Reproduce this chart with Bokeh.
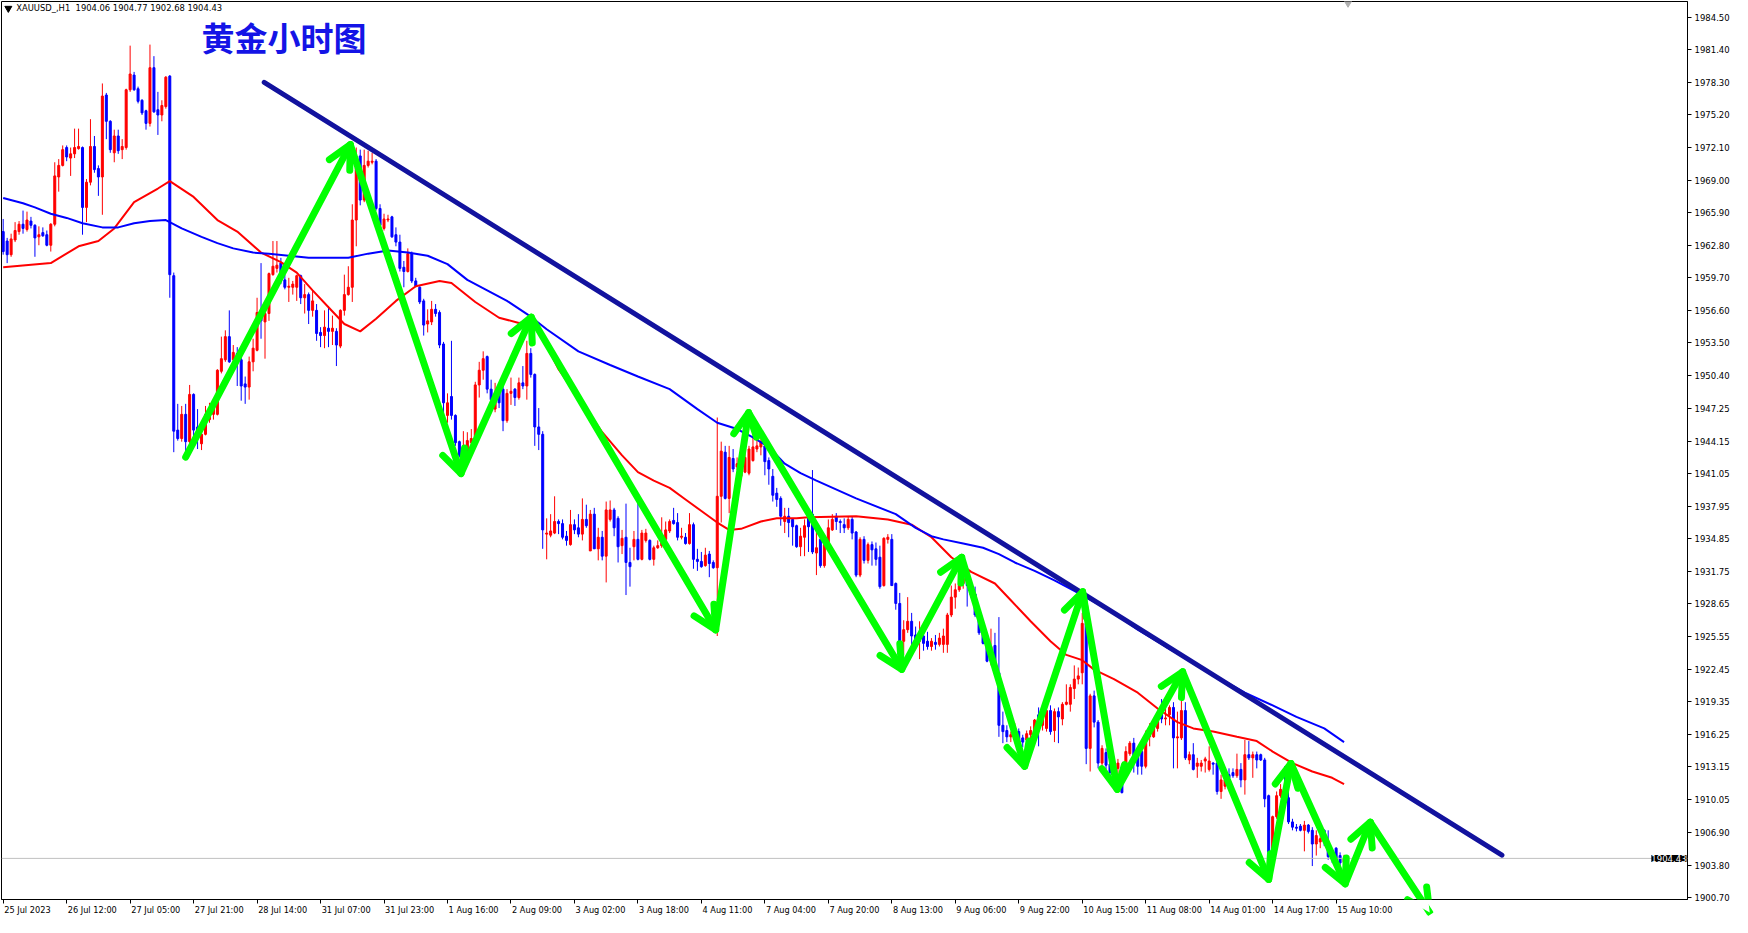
from bokeh.plotting import figure
from bokeh.models import (ColumnDataSource, FixedTicker, PrintfTickFormatter, Label,
                          Span, Arrow, OpenHead, Range1d)
from bokeh.embed import file_html
from bokeh.resources import INLINE

# ---------------- data (XAUUSD H1) ----------------
opens = [
    1964.1, 1963.2, 1961.9, 1963.3, 1964.1, 1964.8, 1964.3, 1965.1, 1964.7, 1963.6,
    1964.0, 1963.8, 1962.8, 1964.8, 1969.3, 1970.4, 1972.1, 1971.1, 1971.5, 1972.0,
    1972.1, 1966.4, 1968.8, 1972.2, 1970.1, 1969.3, 1977.1, 1974.6, 1971.6, 1973.2,
    1971.9, 1972.1, 1977.6, 1979.0, 1977.7, 1976.6, 1975.6, 1974.4, 1979.7, 1975.7,
    1975.2, 1976.0, 1978.9, 1959.9, 1945.2, 1944.4, 1946.7, 1944.1, 1948.6, 1945.5,
    1943.9, 1944.8, 1946.2, 1946.7, 1946.7, 1950.8, 1951.9, 1954.1, 1951.9, 1952.5,
    1951.9, 1949.6, 1949.3, 1951.7, 1952.8, 1956.4, 1955.5, 1956.3, 1960.0, 1960.6,
    1961.1, 1959.5, 1958.8, 1958.8, 1958.8, 1959.9, 1957.8, 1958.1, 1956.6, 1956.6,
    1954.5, 1954.2, 1954.9, 1954.6, 1954.6, 1953.2, 1956.6, 1958.1, 1958.8, 1965.2,
    1971.3, 1967.1, 1970.4, 1970.7, 1970.8, 1966.3, 1964.4, 1965.2, 1965.5, 1963.8,
    1963.1, 1960.7, 1960.3, 1962.0, 1959.4, 1958.8, 1957.5, 1955.3, 1955.5, 1956.7,
    1956.4, 1953.4, 1946.6, 1948.4, 1946.6, 1944.1, 1942.9, 1942.8, 1944.0, 1944.4,
    1949.5, 1950.9, 1952.2, 1949.1, 1947.2, 1948.7, 1949.1, 1946.1, 1948.7, 1949.1,
    1948.3, 1949.7, 1949.4, 1952.5, 1950.5, 1945.5, 1944.8, 1935.3, 1935.2, 1935.4,
    1936.5, 1936.3, 1935.1, 1934.3, 1936.2, 1935.9, 1935.3, 1936.7, 1933.7, 1937.2,
    1933.9, 1935.0, 1933.2, 1936.7, 1937.6, 1936.8, 1934.2, 1935.0, 1932.6, 1934.1,
    1934.8, 1932.9, 1934.7, 1934.7, 1932.9, 1934.0, 1934.2, 1934.8, 1935.6, 1936.6,
    1936.4, 1935.0, 1935.0, 1934.4, 1936.2, 1932.9, 1932.7, 1932.3, 1933.4, 1932.6,
    1932.1, 1938.9, 1943.1, 1938.7, 1942.5, 1941.7, 1940.8, 1941.2, 1941.1, 1942.3,
    1943.4, 1943.6, 1943.7, 1942.3, 1940.8, 1939.2, 1938.7, 1936.5, 1937.0, 1936.7,
    1936.1, 1934.1, 1935.0, 1937.3, 1937.2, 1933.5, 1934.8, 1932.3, 1934.3, 1935.7,
    1937.0, 1936.5, 1936.2, 1935.9, 1936.7, 1935.5, 1931.4, 1934.8, 1932.8, 1934.3,
    1933.9, 1933.1, 1930.4, 1934.8, 1934.8, 1930.6, 1928.7, 1925.1, 1926.2, 1927.0,
    1925.7, 1925.1, 1925.6, 1925.1, 1924.6, 1925.0, 1924.8, 1924.8, 1924.8, 1927.6,
    1929.3, 1930.0, 1930.6, 1930.9, 1930.4, 1929.6, 1927.6, 1925.9, 1924.8, 1923.2,
    1924.7, 1922.1, 1917.1, 1916.6, 1916.0, 1916.1, 1916.5, 1915.9, 1915.7, 1916.2,
    1916.3, 1918.1, 1917.1, 1916.8, 1918.5, 1916.6, 1918.4, 1917.7, 1919.1, 1919.1,
    1920.6, 1921.5, 1922.1, 1926.8, 1914.9, 1919.9, 1917.4, 1913.5, 1914.5, 1913.4,
    1912.6, 1913.0, 1911.5, 1913.0, 1914.4, 1915.4, 1914.3, 1914.6, 1913.2, 1916.0,
    1916.0, 1916.8, 1918.8, 1917.7, 1918.1, 1918.8, 1915.9, 1915.9, 1918.5, 1913.8,
    1914.3, 1913.2, 1913.2, 1913.7, 1912.9, 1913.5, 1913.5, 1910.8, 1911.3, 1912.4,
    1912.6, 1912.3, 1912.9, 1911.9, 1914.3, 1914.0, 1914.3, 1914.3, 1913.8, 1910.4,
    1904.9, 1908.4, 1910.4, 1911.0, 1910.2, 1907.9, 1907.4, 1907.5, 1907.1, 1907.6,
    1907.1, 1905.8, 1906.0, 1907.1, 1905.5, 1904.6, 1905.4, 1904.7, 1904.06,
]
highs = [
    1965.3, 1963.5, 1963.9, 1965.0, 1965.1, 1966.1, 1966.0, 1965.5, 1964.8, 1964.6,
    1964.5, 1964.2, 1964.9, 1970.7, 1971.0, 1972.3, 1972.3, 1972.1, 1973.9, 1973.9,
    1972.2, 1969.1, 1974.8, 1973.2, 1970.4, 1978.2, 1977.3, 1974.7, 1973.8, 1973.8,
    1972.9, 1977.7, 1981.8, 1979.3, 1977.9, 1976.7, 1975.7, 1981.9, 1980.8, 1977.4,
    1976.6, 1978.9, 1979.0, 1960.2, 1947.7, 1947.5, 1947.7, 1949.5, 1948.7, 1947.2,
    1945.6, 1947.5, 1947.8, 1948.1, 1951.0, 1954.1, 1954.7, 1956.6, 1953.3, 1953.1,
    1952.5, 1950.3, 1952.2, 1953.9, 1957.8, 1961.1, 1956.6, 1960.2, 1963.2, 1963.2,
    1961.6, 1960.0, 1959.7, 1959.4, 1960.0, 1960.0, 1959.1, 1958.3, 1958.5, 1957.2,
    1955.0, 1956.6, 1957.0, 1956.1, 1954.9, 1956.7, 1960.0, 1960.8, 1966.7, 1972.1,
    1971.9, 1971.9, 1971.8, 1971.6, 1971.0, 1966.7, 1965.8, 1965.7, 1965.6, 1964.5,
    1963.8, 1961.3, 1962.5, 1962.2, 1959.7, 1958.9, 1957.7, 1956.7, 1957.5, 1957.2,
    1956.6, 1953.6, 1948.7, 1953.7, 1946.7, 1944.2, 1945.1, 1945.0, 1945.3, 1949.8,
    1951.7, 1952.7, 1952.3, 1950.0, 1949.7, 1949.2, 1949.4, 1949.1, 1950.2, 1949.2,
    1950.2, 1951.3, 1953.7, 1953.0, 1950.6, 1947.3, 1945.1, 1936.8, 1937.2, 1938.9,
    1936.7, 1936.7, 1935.6, 1937.6, 1936.7, 1937.2, 1938.7, 1938.1, 1937.6, 1937.8,
    1935.9, 1935.6, 1938.4, 1938.5, 1937.8, 1937.0, 1935.7, 1938.2, 1934.0, 1935.6,
    1939.0, 1935.7, 1935.8, 1934.8, 1934.2, 1934.7, 1936.9, 1936.5, 1936.7, 1937.8,
    1937.3, 1935.9, 1935.4, 1937.3, 1936.4, 1933.9, 1933.6, 1934.0, 1933.7, 1932.8,
    1946.4, 1944.1, 1943.7, 1943.7, 1943.4, 1942.6, 1943.4, 1943.0, 1943.7, 1944.7,
    1944.5, 1944.4, 1944.1, 1942.6, 1941.5, 1939.7, 1938.9, 1937.8, 1937.8, 1936.8,
    1936.2, 1935.9, 1936.7, 1937.8, 1941.4, 1935.9, 1935.1, 1934.5, 1936.7, 1937.2,
    1937.3, 1936.7, 1936.8, 1937.0, 1937.0, 1935.6, 1935.0, 1935.1, 1934.5, 1934.6,
    1934.5, 1934.2, 1935.0, 1935.3, 1935.3, 1930.7, 1929.7, 1927.1, 1929.3, 1927.8,
    1926.5, 1927.0, 1926.2, 1926.0, 1925.4, 1925.7, 1925.9, 1926.3, 1927.8, 1930.4,
    1930.6, 1931.7, 1932.5, 1931.5, 1930.7, 1930.3, 1927.9, 1926.3, 1925.1, 1926.3,
    1925.9, 1927.4, 1918.4, 1917.1, 1916.5, 1917.3, 1916.8, 1916.2, 1916.6, 1917.0,
    1917.7, 1918.8, 1918.7, 1918.7, 1919.0, 1918.7, 1918.8, 1919.3, 1921.0, 1921.0,
    1922.8, 1922.6, 1927.8, 1927.2, 1920.1, 1920.4, 1917.6, 1915.2, 1914.9, 1913.8,
    1913.6, 1913.9, 1911.7, 1915.1, 1915.6, 1915.9, 1914.6, 1914.9, 1916.6, 1917.3,
    1917.7, 1918.2, 1919.6, 1918.7, 1919.0, 1919.3, 1918.4, 1919.5, 1919.3, 1914.6,
    1915.4, 1914.0, 1913.8, 1914.1, 1915.1, 1913.6, 1913.7, 1912.4, 1912.3, 1913.0,
    1913.0, 1914.4, 1913.5, 1915.7, 1915.6, 1914.6, 1914.6, 1914.4, 1914.0, 1910.5,
    1908.5, 1910.8, 1911.5, 1913.2, 1910.8, 1908.2, 1907.7, 1907.7, 1908.0, 1907.7,
    1907.4, 1907.1, 1906.9, 1907.2, 1907.1, 1905.0, 1905.5, 1905.0, 1904.77,
]
lows = [
    1961.9, 1961.1, 1961.7, 1963.1, 1963.8, 1963.9, 1964.1, 1964.4, 1961.7, 1962.8,
    1963.6, 1962.7, 1962.2, 1964.6, 1967.9, 1970.3, 1970.8, 1969.4, 1971.1, 1971.9,
    1963.8, 1965.0, 1968.5, 1969.7, 1967.5, 1965.7, 1972.9, 1971.6, 1970.7, 1971.5,
    1971.0, 1971.9, 1977.4, 1977.5, 1976.3, 1975.2, 1973.8, 1974.1, 1975.4, 1973.3,
    1974.6, 1975.8, 1957.8, 1943.1, 1944.2, 1944.1, 1943.1, 1943.9, 1943.7, 1943.4,
    1943.3, 1944.7, 1945.9, 1946.2, 1946.6, 1950.6, 1951.7, 1951.6, 1951.7, 1949.4,
    1948.0, 1947.7, 1948.1, 1950.8, 1952.7, 1953.9, 1952.0, 1955.6, 1959.9, 1960.2,
    1959.1, 1958.6, 1957.4, 1958.1, 1957.5, 1957.2, 1956.3, 1955.3, 1956.0, 1953.7,
    1953.1, 1953.0, 1953.1, 1953.3, 1951.3, 1953.0, 1956.1, 1958.0, 1957.4, 1962.7,
    1966.6, 1966.9, 1970.2, 1970.5, 1966.1, 1964.6, 1964.2, 1965.0, 1963.5, 1962.7,
    1960.3, 1958.8, 1960.2, 1959.2, 1958.8, 1957.2, 1954.2, 1954.5, 1955.2, 1956.0,
    1953.0, 1945.9, 1945.9, 1946.2, 1943.7, 1942.6, 1942.8, 1942.6, 1943.7, 1944.2,
    1948.3, 1950.0, 1948.7, 1947.8, 1946.9, 1947.3, 1945.1, 1945.9, 1947.6, 1947.5,
    1948.1, 1949.1, 1948.1, 1950.2, 1943.7, 1943.3, 1933.9, 1932.9, 1935.0, 1935.3,
    1935.3, 1934.8, 1934.2, 1934.2, 1935.3, 1935.0, 1934.7, 1935.9, 1933.7, 1933.9,
    1932.8, 1932.8, 1930.7, 1936.5, 1935.1, 1932.6, 1933.4, 1929.5, 1930.3, 1932.8,
    1932.8, 1932.8, 1934.5, 1932.8, 1932.3, 1933.9, 1934.0, 1934.7, 1935.4, 1936.2,
    1934.7, 1934.8, 1934.3, 1934.3, 1932.0, 1931.8, 1932.1, 1932.2, 1931.2, 1932.0,
    1925.6, 1936.4, 1938.6, 1937.3, 1941.2, 1941.4, 1940.6, 1941.1, 1940.9, 1942.2,
    1943.1, 1942.8, 1940.9, 1940.0, 1938.4, 1937.9, 1936.1, 1935.4, 1935.0, 1934.2,
    1934.0, 1933.2, 1933.2, 1933.6, 1933.4, 1931.4, 1932.1, 1932.1, 1934.0, 1935.6,
    1935.7, 1935.4, 1935.4, 1935.7, 1934.8, 1931.2, 1931.2, 1932.5, 1932.5, 1932.3,
    1932.3, 1930.1, 1930.3, 1934.4, 1930.4, 1928.1, 1924.6, 1923.8, 1925.9, 1924.6,
    1924.8, 1923.4, 1924.2, 1924.3, 1924.2, 1924.3, 1924.6, 1924.0, 1924.0, 1927.4,
    1928.2, 1929.8, 1930.1, 1928.4, 1929.2, 1927.4, 1925.7, 1924.8, 1923.1, 1922.8,
    1921.8, 1916.0, 1915.4, 1915.5, 1915.5, 1915.4, 1915.2, 1915.0, 1915.4, 1915.5,
    1915.9, 1915.1, 1916.6, 1916.5, 1916.2, 1915.5, 1915.4, 1917.1, 1919.0, 1918.4,
    1919.6, 1921.0, 1921.0, 1913.4, 1912.7, 1916.9, 1913.0, 1912.7, 1912.9, 1912.2,
    1912.1, 1911.5, 1910.6, 1912.7, 1914.2, 1912.6, 1912.4, 1912.4, 1913.0, 1915.1,
    1915.9, 1916.5, 1917.3, 1917.1, 1917.1, 1913.0, 1913.0, 1915.7, 1913.8, 1913.4,
    1912.8, 1912.1, 1912.7, 1912.6, 1912.7, 1912.4, 1910.5, 1910.1, 1911.0, 1911.9,
    1912.1, 1912.1, 1911.2, 1910.5, 1913.8, 1912.1, 1913.0, 1913.7, 1909.3, 1903.9,
    1904.0, 1908.2, 1910.2, 1909.9, 1907.7, 1907.1, 1907.0, 1907.0, 1905.1, 1906.8,
    1903.7, 1904.7, 1905.4, 1905.6, 1904.3, 1904.0, 1904.0, 1903.7, 1902.68,
]
closes = [
    1962.2, 1961.9, 1963.4, 1964.2, 1964.8, 1964.4, 1965.2, 1964.7, 1963.5, 1963.8,
    1963.7, 1962.8, 1964.8, 1969.4, 1970.4, 1971.9, 1971.2, 1971.5, 1972.1, 1972.2,
    1966.4, 1968.8, 1972.2, 1970.0, 1969.3, 1977.0, 1974.6, 1971.9, 1973.2, 1971.8,
    1972.2, 1977.6, 1979.1, 1977.6, 1976.5, 1975.4, 1974.4, 1979.7, 1975.5, 1975.2,
    1976.1, 1978.8, 1960.0, 1945.1, 1944.4, 1946.7, 1944.1, 1948.6, 1945.2, 1944.4,
    1944.8, 1946.7, 1947.2, 1947.3, 1950.9, 1952.0, 1954.1, 1951.7, 1952.6, 1951.9,
    1949.4, 1949.3, 1951.7, 1953.0, 1956.4, 1955.6, 1956.3, 1960.1, 1960.8, 1960.9,
    1960.0, 1958.8, 1958.9, 1959.1, 1959.9, 1957.8, 1958.1, 1956.6, 1957.5, 1954.4,
    1954.2, 1955.0, 1954.6, 1954.9, 1953.3, 1956.6, 1958.1, 1958.8, 1965.2, 1970.2,
    1967.1, 1970.4, 1970.8, 1970.8, 1966.3, 1964.7, 1965.3, 1965.3, 1963.6, 1963.1,
    1960.6, 1960.3, 1962.0, 1959.4, 1958.9, 1957.4, 1955.2, 1955.6, 1956.7, 1956.3,
    1953.3, 1947.8, 1947.8, 1946.6, 1944.0, 1942.8, 1943.6, 1944.2, 1944.4, 1949.5,
    1950.9, 1952.0, 1949.1, 1948.1, 1948.4, 1947.8, 1946.1, 1948.7, 1948.9, 1948.3,
    1949.7, 1949.4, 1952.5, 1950.5, 1945.5, 1944.8, 1935.7, 1935.4, 1935.6, 1936.5,
    1936.3, 1935.0, 1934.7, 1936.2, 1935.7, 1935.3, 1936.7, 1936.1, 1937.2, 1933.9,
    1935.0, 1933.2, 1937.6, 1937.6, 1935.9, 1934.1, 1934.9, 1932.6, 1932.2, 1934.8,
    1932.9, 1935.4, 1935.4, 1932.9, 1934.0, 1934.2, 1934.5, 1935.7, 1936.5, 1936.3,
    1935.0, 1935.1, 1934.4, 1936.2, 1932.9, 1932.7, 1932.2, 1933.3, 1932.5, 1932.1,
    1938.9, 1943.2, 1938.7, 1942.6, 1941.5, 1942.0, 1942.2, 1942.6, 1943.4, 1943.6,
    1943.7, 1944.1, 1942.2, 1941.5, 1939.0, 1938.6, 1937.0, 1937.0, 1936.4, 1936.0,
    1934.1, 1935.1, 1936.1, 1936.0, 1933.6, 1934.0, 1932.3, 1934.3, 1935.9, 1936.7,
    1936.5, 1936.4, 1935.9, 1936.7, 1935.4, 1931.4, 1934.8, 1932.8, 1934.3, 1933.8,
    1932.9, 1930.3, 1934.9, 1935.0, 1930.4, 1928.7, 1925.1, 1926.2, 1927.0, 1925.6,
    1925.1, 1925.6, 1924.9, 1924.6, 1925.1, 1924.8, 1925.4, 1925.6, 1927.6, 1929.3,
    1930.0, 1930.6, 1931.1, 1930.4, 1929.5, 1927.6, 1925.9, 1924.9, 1923.2, 1924.6,
    1922.1, 1917.1, 1916.5, 1916.0, 1916.2, 1916.6, 1915.5, 1915.5, 1916.3, 1916.6,
    1917.6, 1916.8, 1918.5, 1918.5, 1916.5, 1918.4, 1917.9, 1919.1, 1919.3, 1920.7,
    1921.5, 1921.8, 1926.8, 1914.9, 1919.9, 1917.4, 1913.5, 1914.9, 1913.3, 1912.6,
    1913.2, 1913.5, 1910.7, 1914.6, 1915.4, 1914.0, 1913.2, 1913.2, 1916.2, 1916.6,
    1916.8, 1917.7, 1917.7, 1917.8, 1918.8, 1915.9, 1916.0, 1918.5, 1914.0, 1914.3,
    1912.9, 1913.5, 1913.5, 1913.9, 1913.7, 1913.4, 1910.8, 1911.9, 1911.9, 1912.1,
    1912.3, 1912.9, 1911.9, 1914.3, 1914.0, 1914.3, 1913.8, 1913.8, 1910.1, 1905.0,
    1908.4, 1910.4, 1911.0, 1910.3, 1907.9, 1907.4, 1907.3, 1907.1, 1907.6, 1907.0,
    1905.8, 1906.6, 1906.3, 1906.0, 1904.6, 1904.4, 1904.4, 1904.0, 1904.43,
]

# time-axis labels (every 16 bars)
x_tick_bars = [0, 16, 32, 48, 64, 80, 96, 112, 128, 144, 160, 176, 192, 208,
               224, 240, 256, 272, 288, 304, 320, 336]
x_tick_labels = ["25 Jul 2023", "26 Jul 12:00", "27 Jul 05:00", "27 Jul 21:00",
                 "28 Jul 14:00", "31 Jul 07:00", "31 Jul 23:00", "1 Aug 16:00",
                 "2 Aug 09:00", "3 Aug 02:00", "3 Aug 18:00", "4 Aug 11:00",
                 "7 Aug 04:00", "7 Aug 20:00", "8 Aug 13:00", "9 Aug 06:00",
                 "9 Aug 22:00", "10 Aug 15:00", "11 Aug 08:00", "14 Aug 01:00",
                 "14 Aug 17:00", "15 Aug 10:00"]
y_ticks = [1984.50, 1981.40, 1978.30, 1975.20, 1972.10, 1969.00, 1965.90, 1962.80,
           1959.70, 1956.60, 1953.50, 1950.40, 1947.25, 1944.15, 1941.05, 1937.95,
           1934.85, 1931.75, 1928.65, 1925.55, 1922.45, 1919.35, 1916.25, 1913.15,
           1910.05, 1906.90, 1903.80, 1900.70]

# moving averages (read at sample bars)
red_ma_x = [0, 12, 19, 24, 28, 33, 39, 42, 48, 54, 59, 65, 70, 74, 78, 82, 86, 90, 94, 99,
            104, 110, 113, 119, 125, 130, 133, 136, 140, 147, 151, 156, 160, 164, 168, 172,
            176, 180, 183, 186, 191, 195, 200, 203, 215, 223, 229, 234, 239, 244, 250, 254,
            259, 264, 268, 272, 275, 280, 286, 291, 296, 300, 305, 311, 316, 320, 325, 330,
            335, 338]
red_ma_y = [1960.7, 1961.1, 1962.7, 1963.2, 1964.4, 1966.9, 1968.2, 1968.9, 1967.4, 1965.2,
            1964.1, 1962.1, 1961.2, 1960.2, 1958.5, 1956.9, 1955.3, 1954.6, 1955.8, 1957.5,
            1958.9, 1959.4, 1959.2, 1957.4, 1955.9, 1955.4, 1955.6, 1954.0, 1951.0, 1947.2,
            1945.0, 1942.8, 1941.2, 1940.4, 1939.7, 1938.6, 1937.5, 1936.4, 1935.7, 1935.8,
            1936.5, 1936.8, 1936.8, 1936.9, 1937.0, 1936.7, 1936.2, 1935.0, 1933.1, 1931.7,
            1930.6, 1929.0, 1927.0, 1925.1, 1923.8, 1923.3, 1922.4, 1921.5, 1920.2, 1918.7,
            1917.4, 1916.8, 1916.5, 1916.0, 1915.6, 1914.6, 1913.5, 1912.7, 1912.1, 1911.5]
blue_ma_x = [0, 5, 8, 12, 16, 20, 25, 29, 33, 37, 41, 45, 50, 54, 58, 63, 67, 77, 87, 92,
             97, 102, 107, 112, 117, 122, 127, 133, 137, 145, 153, 160, 168, 175, 180, 185,
             189, 193, 197, 201, 205, 215, 225, 230, 234, 237, 242, 247, 251, 255, 260, 265,
             270, 280, 286, 293, 300, 306, 313, 320, 326, 333, 338]
blue_ma_y = [1967.3, 1966.8, 1966.4, 1965.8, 1965.4, 1964.9, 1964.5, 1964.5, 1964.9, 1965.1,
             1965.2, 1964.4, 1963.6, 1963.0, 1962.5, 1962.1, 1962.0, 1961.6, 1961.6, 1962.0,
             1962.3, 1962.1, 1961.8, 1961.0, 1959.5, 1958.5, 1957.5, 1956.0, 1954.8, 1952.7,
             1951.4, 1950.3, 1949.1, 1947.2, 1945.9, 1945.3, 1944.5, 1943.6, 1942.0, 1941.1,
             1940.4, 1938.7, 1937.2, 1935.9, 1935.1, 1934.8, 1934.4, 1934.0, 1933.4, 1932.6,
             1931.8, 1930.9, 1929.9, 1927.8, 1926.2, 1924.6, 1923.1, 1921.7, 1920.2, 1919.0,
             1917.9, 1916.8, 1915.5]

# drawn objects: descending trend line and zig-zag arrows (bar index, price)
trend_x = [65.8, 377.8]
trend_y = [1978.3, 1904.74]
zig_x = [46.0, 87.5, 115.4, 133.1, 179.6, 187.9, 226.5, 241.6, 257.5, 272.1, 280.8,
         297.3, 319.0, 324.6, 338.3, 344.6, 359.6]
zig_y = [1942.63, 1972.38, 1941.07, 1955.94, 1926.19, 1946.86, 1922.43, 1933.09, 1913.20,
         1929.80, 1911.01, 1922.19, 1902.43, 1913.46, 1902.02, 1907.87, 1899.27]

header_text = "XAUUSD_,H1\u00a0 1904.06 1904.77 1902.68 1904.43"
title_text = "黄金小时图"
last_price = 1904.43

# ---------------- figure ----------------
RED = "#FF0000"
BLUE = "#0000FF"
GREEN = "#00FF00"
X0, X1 = -0.425, 424.575
Y0, Y1 = 1900.516, 1986.003
W, H = 1732, 917
XFONT = 8.2          # px, time-scale font
EST_FRAME_W = 1683   # expected frame width (px)

bars = list(range(len(closes)))
colors = [RED if c >= o else BLUE for o, c in zip(opens, closes)]
tops = [max(o, c) for o, c in zip(opens, closes)]
bottoms = [min(o, c) for o, c in zip(opens, closes)]
src = ColumnDataSource(dict(x=bars, h=highs, l=lows, top=tops, bottom=bottoms, color=colors))

p = figure(width=W, height=H,
           x_range=Range1d(X0, X1), y_range=Range1d(Y0, Y1),
           y_axis_location="right", toolbar_location=None, output_backend="svg",
           min_border_left=1, min_border_top=1, min_border_right=44, min_border_bottom=18)
p.xgrid.visible = False
p.ygrid.visible = False
p.outline_line_color = "black"
p.outline_line_width = 1
p.background_fill_color = "white"
p.border_fill_color = "white"

# current price line
p.add_layout(Span(location=last_price, dimension="width", line_color="#C0C0C0", line_width=1))

# candles
p.segment(x0="x", y0="h", x1="x", y1="l", color="color", line_width=1, source=src)
p.vbar(x="x", width=0.5, top="top", bottom="bottom", fill_color="color",
       line_color="color", line_width=1, source=src)

# moving averages
p.line(red_ma_x, red_ma_y, line_color=RED, line_width=2)
p.line(blue_ma_x, blue_ma_y, line_color=BLUE, line_width=2)

# trend line
p.line(trend_x, trend_y, line_color="#12129E", line_width=5, line_cap="round")

# zig-zag arrows
for i in range(len(zig_x) - 1):
    p.add_layout(Arrow(x_start=zig_x[i], y_start=zig_y[i], x_end=zig_x[i + 1], y_end=zig_y[i + 1],
                       line_color=GREEN, line_width=7, line_cap="round",
                       end=OpenHead(size=23, line_color=GREEN, line_width=7,
                                    line_cap="round", line_join="round")))

# header
p.scatter(x=[1.3], y=[1985.35], marker="inverted_triangle", size=7, color="black")
p.add_layout(Label(x=3.3, y=1985.35, text=header_text, text_font="DejaVu Sans",
                   text_font_size="8.4px", text_color="black", text_baseline="middle"))
p.add_layout(Label(x=50.0, y=1982.6, text=title_text, text_font="Noto Sans CJK SC",
                   text_font_size="33px", text_font_style="bold", text_color="#1414E6",
                   text_baseline="middle"))
# chart-shift marker
p.scatter(x=[339.0], y=[1986.0], marker="inverted_triangle", size=10, color="#B0B0B0")

# ---- price scale (right)
yax = p.yaxis[0]
yax.ticker = FixedTicker(ticks=y_ticks)
yax.formatter = PrintfTickFormatter(format="%.2f")
yax.major_tick_in = 0
yax.major_tick_out = 4
yax.minor_tick_line_color = None
yax.major_label_standoff = 3
yax.major_label_text_font = "DejaVu Sans"
yax.major_label_text_font_size = "8.5px"
yax.major_label_text_color = "black"
yax.axis_line_color = "black"
yax.major_tick_line_color = "black"

# ---- time scale (bottom): tick marks at the bars (minor ticks), texts start at the mark
# (Bokeh centres axis texts, so each text is centred half its width to the right)
CHAR_EM = {" ": 0.318, ":": 0.337, "J": 0.295, "u": 0.634, "l": 0.278, "A": 0.684, "g": 0.635}
def text_width(s, size):
    return sum(CHAR_EM.get(ch, 0.636) for ch in s) * size

bars_per_px = (X1 - X0) / EST_FRAME_W
label_pos = [round(b + (text_width(t, XFONT) / 2 + 1) * bars_per_px, 4)
             for b, t in zip(x_tick_bars, x_tick_labels)]
xax = p.xaxis[0]
xax.ticker = FixedTicker(ticks=label_pos, minor_ticks=x_tick_bars)
xax.major_label_overrides = {k: v for k, v in zip(label_pos, x_tick_labels)}
xax.major_tick_line_color = None
xax.major_tick_in = 0
xax.major_tick_out = 4
xax.minor_tick_in = 0
xax.minor_tick_out = 4
xax.minor_tick_line_color = "black"
xax.major_label_standoff = 1
xax.major_label_text_font = "DejaVu Sans"
xax.major_label_text_font_size = "%.1fpx" % XFONT
xax.major_label_text_color = "black"
xax.axis_line_color = "black"

# current price tag (drawn against the price scale, inside the plot edge)
p.add_layout(Label(x=X1, y=last_price, text="1904.43", text_font="DejaVu Sans",
                   text_font_size="8.5px", text_color="white", background_fill_color="black",
                   text_baseline="middle", text_align="right", x_offset=-1))

open("out.html", "w").write(file_html(p, INLINE))
